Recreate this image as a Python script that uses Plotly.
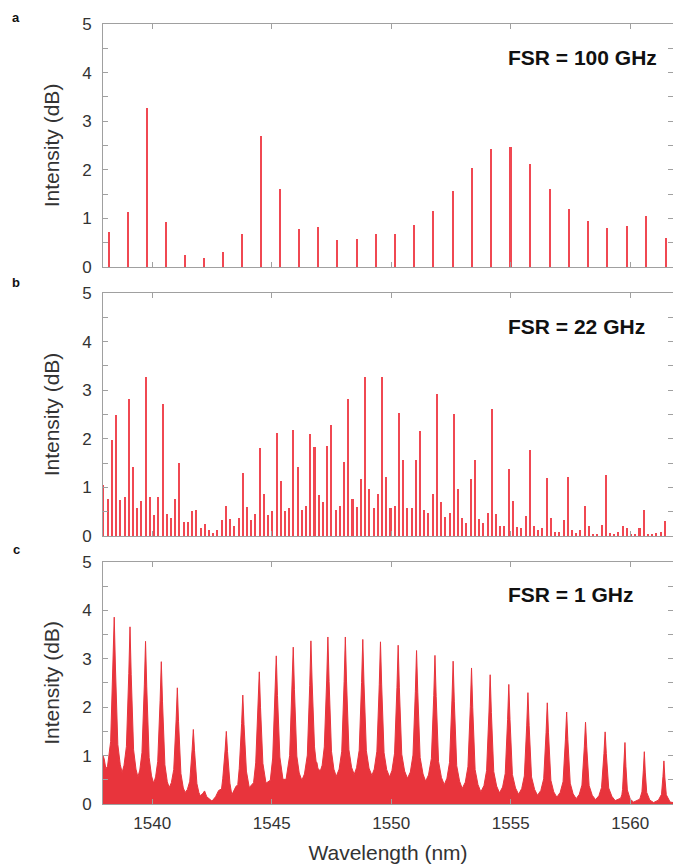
import plotly.graph_objects as go

# ---------------- data ----------------
# Panel a: FSR = 100 GHz comb lines
a_wl = [1538.19, 1539.00, 1539.78, 1540.57, 1541.37, 1542.16, 1542.96, 1543.75,
        1544.55, 1545.34, 1546.15, 1546.95, 1547.74, 1548.55, 1549.35, 1550.15,
        1550.96, 1551.76, 1552.58, 1553.39, 1554.19, 1554.99, 1555.80, 1556.63,
        1557.43, 1558.22, 1559.04, 1559.85, 1560.66, 1561.48]
a_db = [0.73, 1.13, 3.27, 0.93, 0.25, 0.18, 0.31, 0.67, 2.69, 1.60,
        0.78, 0.82, 0.56, 0.58, 0.67, 0.67, 0.87, 1.16, 1.56, 2.03,
        2.43, 2.47, 2.11, 1.60, 1.20, 0.94, 0.80, 0.85, 1.04, 0.60]

# Panel b: FSR = 22 GHz comb lines (evenly spaced comb, first line at the left edge)
b_first_wl = 1537.96
b_spacing_nm = 0.1766
b_db = [1.05,
        0.77, 1.97, 2.49, 0.75, 0.80, 2.82, 1.41, 0.57, 0.72, 3.28,
        0.80, 0.44, 0.80, 2.72, 0.45, 0.36, 0.76, 1.50, 0.28, 0.28,
        0.51, 0.54, 0.16, 0.24, 0.12, 0.06, 0.13, 0.32, 0.62, 0.34,
        0.21, 0.38, 1.29, 0.60, 0.32, 0.45, 1.81, 0.86, 0.43, 0.51,
        2.11, 1.14, 0.51, 0.58, 2.18, 1.42,
        0.53, 0.61, 2.09, 1.84, 0.84, 0.70, 1.86, 2.28, 0.54, 0.61,
        1.52, 2.81, 0.76, 0.59, 1.17, 3.27, 0.96, 0.58, 0.86, 3.28,
        1.21, 0.58, 0.61, 2.54, 1.56, 0.58, 0.58, 1.56, 2.16, 0.54,
        0.47, 0.87, 2.92, 0.69, 0.40, 0.47, 2.52, 0.97, 0.38, 0.27,
        1.17, 1.57, 0.35,
        0.26, 0.47, 2.61, 0.45, 0.21, 0.21, 1.37, 0.72, 0.18, 0.16,
        0.42, 1.76, 0.21, 0.12, 0.16, 1.19, 0.36, 0.09, 0.09, 0.32,
        1.21, 0.12, 0.06, 0.12, 0.62, 0.20, 0.05, 0.05, 0.23, 1.25,
        0.06, 0.05, 0.09, 0.21, 0.16, 0.05, 0.03, 0.16, 0.53, 0.05,
        0.03, 0.06, 0.09, 0.31]
b_wl = [round(b_first_wl + i * b_spacing_nm, 4) for i in range(len(b_db))]

# Panel c: FSR = 1 GHz dense spectrum (traced outline)
c_wl = [1537.94, 1537.99, 1538.06, 1538.13, 1538.26, 1538.36, 1538.41, 1538.46, 1538.56, 1538.66, 1538.74,
        1538.82, 1538.92, 1539.02, 1539.07, 1539.12, 1539.22, 1539.32, 1539.40,
        1539.48, 1539.57, 1539.67, 1539.72, 1539.77, 1539.87, 1539.97, 1540.06,
        1540.14, 1540.23, 1540.33, 1540.38, 1540.43, 1540.53, 1540.63, 1540.71,
        1540.80, 1540.90, 1541.00, 1541.05, 1541.10, 1541.20, 1541.30, 1541.38,
        1541.47, 1541.57, 1541.67, 1541.72, 1541.77, 1541.87, 1541.95, 1542.01,
        1542.12, 1542.19, 1542.28, 1542.50, 1542.65, 1542.78, 1542.90,
        1542.95, 1543.05, 1543.10, 1543.15, 1543.25, 1543.33, 1543.50, 1543.58,
        1543.64, 1543.74, 1543.79, 1543.84, 1543.94, 1544.06, 1544.24,
        1544.33, 1544.43, 1544.48, 1544.53, 1544.63, 1544.76, 1544.94,
        1545.04, 1545.14, 1545.19, 1545.24, 1545.34, 1545.47, 1545.60,
        1545.75, 1545.85, 1545.90, 1545.95, 1546.05, 1546.15, 1546.26,
        1546.37, 1546.49, 1546.59, 1546.64, 1546.69, 1546.79, 1546.86, 1546.89, 1546.93, 1547.03,
        1547.11, 1547.20, 1547.30, 1547.35, 1547.40, 1547.50, 1547.60, 1547.70,
        1547.82, 1547.93, 1548.03, 1548.08, 1548.13, 1548.23, 1548.34, 1548.45,
        1548.55, 1548.66, 1548.76, 1548.81, 1548.86, 1548.96, 1549.07, 1549.19,
        1549.29, 1549.40, 1549.50, 1549.55, 1549.60, 1549.70, 1549.81, 1549.93,
        1550.03, 1550.14, 1550.24, 1550.29, 1550.34, 1550.44, 1550.56, 1550.68,
        1550.80, 1550.91, 1551.01, 1551.06, 1551.11, 1551.21, 1551.33, 1551.44,
        1551.56, 1551.68, 1551.78, 1551.83, 1551.88, 1551.98, 1552.10, 1552.22,
        1552.33, 1552.44, 1552.54, 1552.59, 1552.64, 1552.74, 1552.86, 1552.97,
        1553.10, 1553.21, 1553.31, 1553.36, 1553.41, 1553.51, 1553.63, 1553.75,
        1553.88, 1553.99, 1554.09, 1554.14, 1554.19, 1554.29, 1554.41, 1554.53,
        1554.66, 1554.77, 1554.87, 1554.92, 1554.97, 1555.07, 1555.20, 1555.33,
        1555.46, 1555.57, 1555.67, 1555.72, 1555.77, 1555.87, 1556.00, 1556.12,
        1556.26, 1556.38, 1556.48, 1556.53, 1556.58, 1556.68, 1556.80, 1556.93,
        1557.07, 1557.19, 1557.29, 1557.34, 1557.39, 1557.49, 1557.61, 1557.74,
        1557.87, 1557.98, 1558.08, 1558.13, 1558.18, 1558.28, 1558.41, 1558.55,
        1558.69, 1558.80, 1558.90, 1558.95, 1559.00, 1559.10, 1559.23, 1559.37,
        1559.60, 1559.65, 1559.68, 1559.74, 1559.78, 1559.82, 1559.88, 1560.00, 1560.14,
        1560.40, 1560.45, 1560.49, 1560.55, 1560.59, 1560.63, 1560.69, 1560.82, 1560.98,
        1561.18, 1561.23, 1561.31, 1561.37, 1561.41, 1561.45, 1561.51, 1561.67, 1561.80]
c_db = [1.00, 0.93, 0.73, 0.78, 1.29, 2.86, 3.86, 2.83, 1.23, 0.82, 0.65,
        0.80, 1.19, 2.70, 3.66, 2.67, 1.12, 0.72, 0.56,
        0.70, 1.06, 2.46, 3.36, 2.42, 0.96, 0.58, 0.43,
        0.56, 0.88, 2.14, 2.94, 2.11, 0.81, 0.46, 0.34,
        0.44, 0.71, 1.74, 2.40, 1.71, 0.63, 0.33, 0.24,
        0.30, 0.47, 1.12, 1.54, 1.10, 0.42, 0.24, 0.17,
        0.22, 0.27, 0.15, 0.06, 0.15, 0.28, 0.31,
        0.52, 1.12, 1.50, 1.08, 0.43, 0.19, 0.36, 0.40,
        0.73, 1.66, 2.25, 1.64, 0.68, 0.34, 0.44,
        0.85, 2.00, 2.73, 2.00, 0.84, 0.43, 0.49,
        0.95, 2.24, 3.06, 2.24, 0.97, 0.51, 0.51,
        1.00, 2.37, 3.24, 2.36, 0.99, 0.64, 0.49,
        0.62, 1.01, 2.45, 3.37, 2.52, 1.18, 0.86, 0.86, 0.74, 0.68,
        0.80, 1.18, 2.56, 3.45, 2.53, 1.09, 0.72, 0.57,
        0.72, 1.09, 2.53, 3.45, 2.54, 1.12, 0.76, 0.61,
        0.75, 1.11, 2.51, 3.40, 2.50, 1.10, 0.74, 0.59,
        0.72, 1.09, 2.47, 3.35, 2.46, 1.06, 0.71, 0.56,
        0.69, 1.05, 2.41, 3.28, 2.40, 1.03, 0.68, 0.53,
        0.66, 1.01, 2.33, 3.17, 2.31, 0.96, 0.62, 0.47,
        0.60, 0.94, 2.24, 3.07, 2.22, 0.88, 0.55, 0.40,
        0.53, 0.86, 2.13, 2.95, 2.11, 0.79, 0.47, 0.32,
        0.45, 0.77, 2.01, 2.81, 1.99, 0.71, 0.40, 0.25,
        0.38, 0.69, 1.90, 2.67, 1.89, 0.67, 0.37, 0.23,
        0.35, 0.63, 1.75, 2.47, 1.74, 0.61, 0.33, 0.20,
        0.32, 0.58, 1.63, 2.30, 1.62, 0.56, 0.30, 0.18,
        0.28, 0.52, 1.48, 2.09, 1.47, 0.49, 0.25, 0.14,
        0.24, 0.46, 1.34, 1.90, 1.33, 0.43, 0.21, 0.11,
        0.20, 0.39, 1.18, 1.69, 1.18, 0.38, 0.18, 0.09,
        0.17, 0.34, 1.04, 1.49, 1.04, 0.33, 0.16, 0.07,
        0.12, 0.19, 0.30, 0.82, 1.27, 0.78, 0.29, 0.10, 0.04,
        0.10, 0.17, 0.25, 0.70, 1.08, 0.66, 0.24, 0.08, 0.03,
        0.08, 0.13, 0.20, 0.57, 0.89, 0.54, 0.19, 0.04, 0.03]

fsr_labels = ["FSR = 100 GHz", "FSR = 22 GHz", "FSR = 1 GHz"]
panel_letters = ["a", "b", "c"]
y_ticks = [0, 1, 2, 3, 4, 5]
x_ticks = [1540, 1545, 1550, 1555, 1560]

# ---------------- styling ----------------
BAR_COLOR = "rgb(240,72,82)"
FILL_COLOR = "rgb(232,52,60)"
AXIS_COLOR = "#a0a0a0"
TEXT_COLOR = "#333333"
FONT = "Liberation Sans, Arial, sans-serif"
X_RANGE = [1537.94, 1561.79]

fig = go.Figure()
fig.add_trace(go.Bar(x=a_wl, y=a_db, width=0.085, marker=dict(color=BAR_COLOR, line_width=0),
                     xaxis="x", yaxis="y", showlegend=False))
fig.add_trace(go.Bar(x=b_wl, y=b_db, width=0.085, marker=dict(color=BAR_COLOR, line_width=0),
                     xaxis="x2", yaxis="y2", showlegend=False))
fig.add_trace(go.Scatter(x=c_wl, y=c_db, mode="lines", fill="tozeroy",
                         line=dict(color=FILL_COLOR, width=1), fillcolor=FILL_COLOR,
                         xaxis="x3", yaxis="y3", showlegend=False))


def xax(anchor, labels):
    d = dict(range=X_RANGE, domain=[0, 1], anchor=anchor, showline=True, linecolor=AXIS_COLOR,
             linewidth=1, mirror="ticks", ticks="inside", ticklen=5, tickcolor=AXIS_COLOR,
             tickvals=x_ticks, showgrid=False, zeroline=False, showticklabels=labels,
             automargin=False,
             tickfont=dict(family=FONT, size=17, color=TEXT_COLOR))
    if labels:
        d["ticklabelstandoff"] = 4
        d["title"] = dict(text="Wavelength (nm)", font=dict(family=FONT, size=21, color=TEXT_COLOR),
                          standoff=12)
    return d


def yax(anchor, domain):
    return dict(range=[0, 5], domain=domain, anchor=anchor, showline=True, linecolor=AXIS_COLOR,
                linewidth=1, mirror="ticks", ticks="inside", ticklen=5, tickcolor=AXIS_COLOR,
                tickvals=y_ticks, showgrid=False, zeroline=False, automargin=False,
                minor=dict(ticks="inside", ticklen=5, tickcolor=AXIS_COLOR, dtick=0.5, showgrid=False),
                tickfont=dict(family=FONT, size=17, color=TEXT_COLOR), ticklabelstandoff=7,
                title=dict(text="Intensity (dB)", font=dict(family=FONT, size=21, color=TEXT_COLOR),
                           standoff=16))


dom_a = [0.6885, 1.0]
dom_b = [0.3436, 0.6551]
dom_c = [0.0, 0.3103]

fig.update_layout(
    width=673, height=867,
    margin=dict(l=103, r=0, t=24, b=63, autoexpand=False),
    paper_bgcolor="white", plot_bgcolor="white",
    bargap=0,
    xaxis=xax("y", False), yaxis=yax("x", dom_a),
    xaxis2=xax("y2", False), yaxis2=yax("x2", dom_b),
    xaxis3=xax("y3", True), yaxis3=yax("x3", dom_c),
    font=dict(family=FONT, color=TEXT_COLOR),
)

for i, (xr, yr) in enumerate([("x domain", "y domain"), ("x2 domain", "y2 domain"), ("x3 domain", "y3 domain")]):
    fig.add_annotation(x=0.707, y=0.864, xref=xr, yref=yr, text="<b>%s</b>" % fsr_labels[i],
                       showarrow=False, xanchor="left", yanchor="middle",
                       font=dict(family=FONT, size=21, color="#111111"))

letter_y = [1.0077, 0.668, 0.3269]
for i, l in enumerate(panel_letters):
    fig.add_annotation(x=-0.1526, y=letter_y[i], xref="paper", yref="paper", text="<b>%s</b>" % l,
                       showarrow=False, xanchor="center", yanchor="middle",
                       font=dict(family=FONT, size=13, color="#111111"))

# remove the browser's default 8 px page margin so the 673x867 figure fills the window exactly
fig.write_html("out.html",
               config={"displayModeBar": False},
               post_script="document.body.style.margin='0px';"
                           "document.documentElement.style.overflow='hidden';")
